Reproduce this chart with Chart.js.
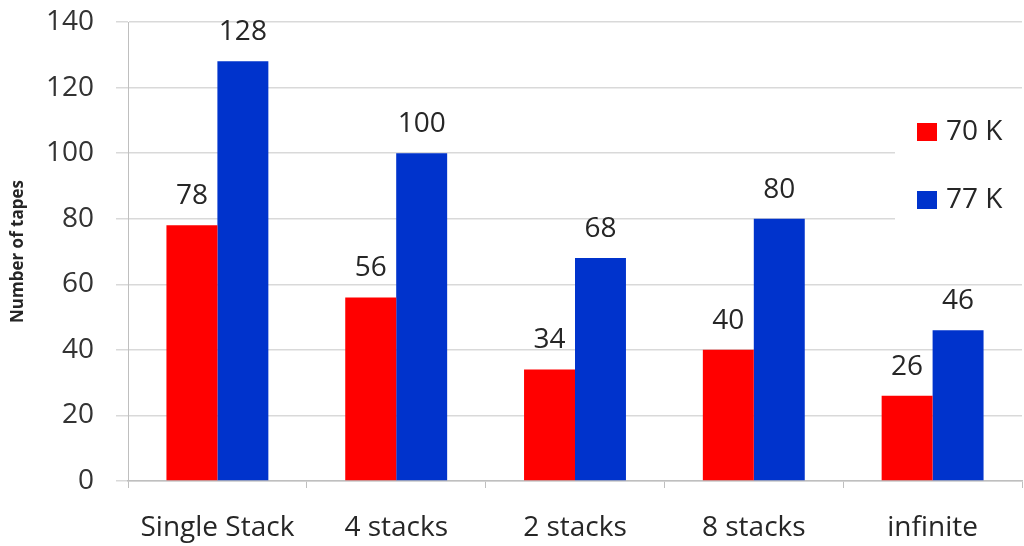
<!DOCTYPE html>
<html>
<head>
<meta charset="utf-8">
<script src="https://cdn.jsdelivr.net/npm/chart.js@4.4.1/dist/chart.umd.min.js"></script>
<style>
  html, body { margin: 0; padding: 0; background: #fff; }
  #wrap { width: 1024px; height: 546px; }
</style>
</head>
<body>
<div id="wrap"><canvas id="myChart"></canvas></div>
<script>
const categories = ['Single Stack', '4 stacks', '2 stacks', '8 stacks', 'infinite'];
const values70 = [78, 56, 34, 40, 26];
const values77 = [128, 100, 68, 80, 46];
const seriesNames = ['70 K', '77 K'];

const red = '#ff0000';
const blue = '#0033cc';
const font = '"Open Sans", Lato, sans-serif';

// value labels above each bar
const barLabels = {
    id: 'barLabels',
    afterDatasetsDraw(chart) {
        const ctx = chart.ctx;
        ctx.save();
        ctx.font = '28px ' + font;
        ctx.fillStyle = '#262626';
        ctx.textAlign = 'center';
        ctx.textBaseline = 'middle';
        chart.data.datasets.forEach((ds, i) => {
            chart.getDatasetMeta(i).data.forEach((bar, j) => {
                ctx.fillText(ds.data[j], bar.x, bar.y - 29);
            });
        });
        ctx.restore();
    }
};

// legend drawn inside the plot, on a white box
const boxLegend = {
    id: 'boxLegend',
    afterDraw(chart) {
        const ctx = chart.ctx;
        ctx.save();
        ctx.fillStyle = '#fff';
        ctx.fillRect(895, 104, 127, 132);
        ctx.font = '28px ' + font;
        ctx.textBaseline = 'middle';
        chart.data.datasets.forEach((ds, i) => {
            const y = 132 + i * 68;
            ctx.fillStyle = ds.backgroundColor;
            ctx.fillRect(917, y - 9, 20, 18);
            ctx.fillStyle = '#262626';
            ctx.fillText(ds.label, 946, y);
        });
        ctx.restore();
    }
};

const data = {
    labels: categories,
    datasets: [{
        label: seriesNames[0],
        data: values70,
        backgroundColor: red,
        categoryPercentage: 0.57,
        barPercentage: 1.0
    }, {
        label: seriesNames[1],
        data: values77,
        backgroundColor: blue,
        categoryPercentage: 0.57,
        barPercentage: 1.0
    }]
};

const config = {
    type: 'bar',
    data: data,
    plugins: [barLabels, boxLegend],
    options: {
        responsive: true,
        maintainAspectRatio: false,
        animation: false,
        layout: { padding: { top: 22, right: 2, left: 0, bottom: 0 } },
        plugins: {
            legend: { display: false },
            tooltip: { enabled: false }
        },
        scales: {
            x: {
                grid: {
                    offset: true,
                    drawOnChartArea: false,
                    tickLength: 7,
                    color: '#bfbfbf'
                },
                border: { color: '#bfbfbf', width: 1.5 },
                ticks: {
                    color: '#262626',
                    font: { family: font, size: 28 },
                    padding: 23,
                    maxRotation: 0
                },
                afterFit(scale) { scale.height = 65; }
            },
            y: {
                min: 0,
                max: 140,
                ticks: {
                    stepSize: 20,
                    color: '#333',
                    font: { family: font, size: 28 },
                    padding: 22
                },
                grid: {
                    color: '#d9d9d9',
                    lineWidth: 1.5,
                    tickLength: 12
                },
                border: { color: '#bfbfbf', width: 1 },
                title: {
                    display: true,
                    text: 'Number of tapes',
                    color: '#262626',
                    font: { family: font, size: 17, weight: 'bold' },
                    padding: { top: 8, bottom: 0 }
                },
                afterFit(scale) {
                    scale.width = 128;
                    scale.paddingTop = 0;
                    scale.paddingBottom = 0;
                }
            }
        }
    }
};

const myChart = new Chart(document.getElementById('myChart'), config);
</script>
</body>
</html>
